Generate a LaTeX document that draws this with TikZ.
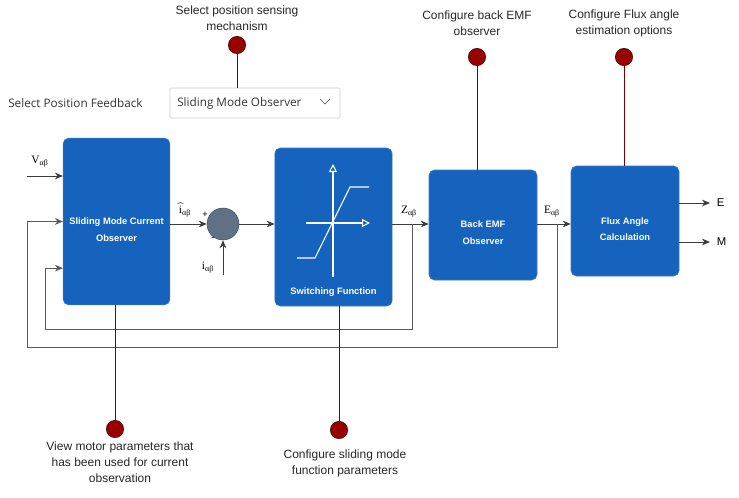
\documentclass[tikz,border=0pt]{standalone}
\usepackage{amsmath}
\usepackage{fontspec}
\setmainfont{Liberation Sans}
\newfontfamily\uifont{Open Sans}
\newfontfamily\sigfont{Liberation Serif}
\usetikzlibrary{arrows.meta,positioning}
\definecolor{blockblue}{RGB}{22,99,190}
\definecolor{sumgray}{RGB}{96,112,133}
\definecolor{pinred}{RGB}{153,0,0}
\definecolor{wireline}{RGB}{60,60,60}
\tikzset{
  block/.style={rectangle,rounded corners=4pt,fill=blockblue,draw=blockblue!85!white},
  blocklabel/.style={text=white,font=\bfseries\fontsize{7}{12.75}\selectfont,align=center},
  conn/.style={draw=wireline,semithick,-{Stealth[length=6pt,width=5pt]}},
  fb/.style={draw=wireline!85!white,semithick,-{Stealth[length=6pt,width=5pt]}},
  axisarrow/.style={white,thick,-{Triangle[open,length=6pt,width=6pt]}},
  pin/.style={draw=pinred!80!black,thin},
  pindot/.style={circle,fill=pinred,draw=pinred!40!black,minimum size=13pt,inner sep=0pt},
  note/.style={font=\fontsize{9}{12}\selectfont,align=center,text=black!85},
  sig/.style={font=\sigfont\fontsize{8.5}{9}\selectfont,inner sep=1pt},
  uitext/.style={anchor=west,inner sep=0pt,font=\uifont\fontsize{8.8}{10}\selectfont,text=black!80},
}
\newcommand{\sub}[1]{\textsubscript{#1}}
\begin{document}
\begin{tikzpicture}[x=0.75pt,y=-0.75pt]
  \useasboundingbox (0,0) rectangle (739,497);

  % main blocks
  \node (smco) at (116.5,221.5) [block,minimum width=80pt,minimum height=125pt] {};
  \node (swf) at (333.5,227) [block,minimum width=88pt,minimum height=118.5pt] {};
  \node (bemf) at (483,225) [block,minimum width=81pt,minimum height=82.5pt] {};
  \node (flux) at (625,221) [block,minimum width=81pt,minimum height=82.5pt] {};
  \node (sum) at (223,224) [circle,fill=sumgray,draw=sumgray!70!black,minimum size=24pt,inner sep=0pt] {};
  \node (smcolabel) at (116.5,229.5) [blocklabel] {Sliding Mode Current\\Observer};
  \node (swflabel) at (333.5,292) [blocklabel] {Switching Function};
  \node (bemflabel) at (483,232.5) [blocklabel] {Back EMF\\Observer};
  \node (fluxlabel) at (625,229) [blocklabel,font=\bfseries\fontsize{7}{12}\selectfont] {Flux Angle\\Calculation};

  % switching curve
  \coordinate (vaxis0) at (333,277);
  \coordinate (vaxis1) at (333,164);
  \coordinate (haxis0) at (306,223);
  \coordinate (haxis1) at (370,223);
  \draw[axisarrow] (vaxis0) -- (vaxis1);
  \draw[axisarrow] (haxis0) -- (haxis1);
  \draw[white,thick] (297,258) -- (315,258) -- (350,187) -- (369,187);

  % signal path
  \coordinate (vin) at (27,176);
  \coordinate (iin) at (223,275);
  \coordinate (ztap) at (412,224);
  \coordinate (etap) at (557,224);
  \coordinate (inner) at (45,329);
  \coordinate (outer) at (27,347);
  \coordinate (oute) at (710,203);
  \coordinate (outm) at (710,242);
  \draw[conn] (vin) -- (vin -| smco.west);
  \draw[conn] (smco.east |- sum) -- (sum.west);
  \draw[conn] (iin) -- (sum.south);
  \draw[conn] (sum.east) -- (sum -| swf.west);
  \draw[conn] (swf.east |- sum) -- (bemf.west |- sum);
  \draw[conn] (bemf.east |- sum) -- (flux.west |- sum);
  \draw[conn] (oute -| flux.east) -- (oute);
  \draw[conn] (outm -| flux.east) -- (outm);
  \draw[fb] (ztap) |- (inner) |- ([yshift=-35pt]smco.west);
  \draw[fb] (etap) |- (outer) |- (smco.west);

  % signal labels
  \node (vlab) at (40,162) [sig] {V\sub{αβ}};
  \node (ihatlab) at (185,210) [sig] {$\widehat{\text{\sigfont i}}$\sub{αβ}};
  \node (plus) at (205,215) [sig,font=\fontsize{7}{8}\selectfont] {+};
  \node (minus) at (213,239) [sig,font=\fontsize{7}{8}\selectfont] {-};
  \node (ilab) at (208,268) [sig] {i\sub{αβ}};
  \node (zlab) at (409,212) [sig] {Z\sub{αβ}};
  \node (elab) at (552,212) [sig] {E\sub{αβ}};
  \node (elabout) at (oute) [anchor=west,font=\fontsize{8.5}{9}\selectfont,inner sep=1pt,xshift=4pt] {E};
  \node (mlabout) at (outm) [anchor=west,font=\fontsize{8.5}{9}\selectfont,inner sep=1pt,xshift=4pt] {M};

  % position feedback selector
  \node (feedback) at (8,103) [uitext] {Select Position Feedback};
  \node (dropdown) at (255,103) [rectangle,draw=black!20,rounded corners=1pt,minimum width=127.5pt,minimum height=22.5pt] {};
  \node (ddtext) at (177,103) [uitext] {Sliding Mode Observer};
  \draw[black!70] (320,99) -- (325,104) -- (330,99);

  % callouts
  \node (dotpos) at (237,45) [pindot] {};
  \node (dotbemf) at (477,57) [pindot] {};
  \node (dotflux) at (624,57) [pindot] {};
  \node (dotmotor) at (115,429) [pindot] {};
  \node (dotswf) at (339,430) [pindot] {};
  \draw[pin] (dotpos) -- (dotpos |- dropdown.north);
  \draw[pin] (dotbemf) -- (dotbemf |- bemf.north);
  \draw[pin] (dotflux) -- (dotflux |- flux.north);
  \draw[pin] (dotmotor) -- (dotmotor |- smco.south);
  \draw[pin] (dotswf) -- (dotswf |- swf.south);
  \node (notepos) at (237,18) [note] {Select position sensing\\mechanism};
  \node (notebemf) at (477,23) [note] {Configure back EMF\\observer};
  \node (noteflux) at (624,23) [note] {Configure Flux angle\\estimation options};
  \node (notemotor) at (120,462) [note] {View motor parameters that\\has been used for current\\observation};
  \node (noteswf) at (345,463) [note] {Configure sliding mode\\function parameters};
\end{tikzpicture}
\end{document}
